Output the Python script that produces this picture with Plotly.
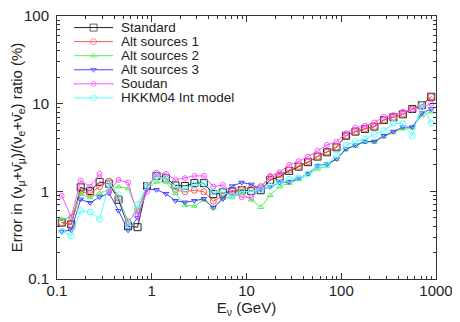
import plotly.graph_objects as go

# bin centres, 10 per decade from 0.1 to 1000 GeV
energy = [round(10 ** (-0.95 + 0.1 * i), 4) for i in range(40)]

standard = [0.44, 0.42, 1.11, 1.01, 1.28, 1.22, 0.80, 0.40, 0.39, 1.15,
            1.50, 1.41, 1.17, 1.15, 1.24, 1.24, 0.93, 0.97, 1.00, 1.03,
            1.01, 1.03, 1.35, 1.47, 1.71, 1.91, 2.15, 2.49, 2.79, 3.18,
            4.30, 4.80, 5.15, 5.47, 6.50, 7.00, 7.56, 8.70, 9.60, 12.0]
alt1 = [0.44, 0.42, 0.99, 0.95, 1.13, 1.31, 0.84, 0.45, 0.61, 1.13,
        1.48, 1.38, 1.04, 0.99, 1.03, 0.99, 0.77, 0.88, 1.02, 1.05,
        1.10, 1.13, 1.45, 1.55, 1.75, 1.93, 2.17, 2.50, 2.80, 3.20,
        4.30, 4.80, 5.15, 5.50, 6.50, 7.00, 7.60, 8.70, 9.60, 12.0]
alt2 = [0.48, 0.51, 0.93, 0.85, 0.95, 1.05, 1.13, 1.08, 0.60, 1.08,
        1.28, 1.28, 0.95, 0.69, 0.68, 0.80, 0.65, 0.84, 0.86, 0.95,
        0.80, 0.66, 0.90, 1.13, 1.24, 1.37, 1.57, 1.80, 1.95, 2.32,
        3.00, 3.30, 3.65, 3.65, 4.20, 4.70, 5.20, 5.30, 7.30, 8.10]
alt3 = [0.35, 0.36, 0.81, 0.74, 0.86, 0.95, 0.60, 0.36, 0.50, 1.06,
        1.04, 0.94, 0.78, 0.75, 0.78, 0.82, 0.65, 0.82, 1.15, 1.26,
        1.20, 1.05, 1.12, 1.26, 1.28, 1.40, 1.60, 1.95, 2.05, 2.34,
        3.05, 3.35, 3.70, 3.70, 4.30, 4.80, 5.40, 5.40, 7.80, 8.70]
soudan = [0.89, 0.51, 1.32, 1.13, 1.58, 1.00, 1.35, 1.26, 0.54, 0.99,
          1.63, 1.58, 1.35, 1.41, 1.50, 1.50, 1.13, 1.18, 0.96, 0.86,
          0.85, 1.11, 1.50, 1.65, 2.00, 2.20, 2.49, 2.90, 3.38, 3.69,
          4.60, 5.30, 5.60, 6.10, 7.10, 7.40, 8.10, 8.60, 9.10, 10.0]
hkkm04 = [0.35, 0.31, 0.60, 0.58, 0.48, 1.23, 0.91, 0.41, 0.70, 1.18,
          1.48, 1.40, 1.12, 1.05, 1.18, 1.24, 0.98, 0.98, 0.88, 1.00,
          1.00, 1.05, 1.15, 1.25, 1.37, 1.42, 1.57, 1.93, 2.00, 2.60,
          3.35, 3.69, 3.95, 4.45, 4.90, 6.00, 5.90, 4.30, 9.70, 6.00]

series = [
    ("Standard", standard, "#222222", "square-open", 7),
    ("Alt sources 1", alt1, "#ff5555", "circle-open", 6),
    ("Alt sources 2", alt2, "#55ee55", "triangle-up-open", 5),
    ("Alt sources 3", alt3, "#4444ff", "triangle-down-open", 5),
    ("Soudan", soudan, "#ff55ff", "circle-open-dot", 5),
    ("HKKM04 Int model", hkkm04, "#55ffff", "circle-open", 6),
]

FONT = "Liberation Sans, Arial"
TXT = "#222222"

fig = go.Figure()
for name, vals, color, symbol, size in series:
    fig.add_trace(go.Scatter(
        x=energy, y=vals, name=name, mode="lines+markers", showlegend=False,
        line=dict(color=color, width=1),
        marker=dict(symbol=symbol, size=size, color=color, line=dict(width=1, color=color)),
    ))

# compact gnuplot-style key, drawn on an overlay axis spanning the plot area
key_x0, key_x1, key_text = 0.045, 0.148, 0.166
key_top, key_step = 0.956, 0.0535
for k, (name, vals, color, symbol, size) in enumerate(series):
    yk = key_top - k * key_step
    fig.add_trace(go.Scatter(
        x=[key_x0, (key_x0 + key_x1) / 2, key_x1], y=[yk, yk, yk],
        xaxis="x2", yaxis="y2", mode="lines+markers", showlegend=False,
        hoverinfo="skip", line=dict(color=color, width=1),
        marker=dict(symbol=symbol, size=[0, size, 0], color=color,
                    line=dict(width=1, color=color)),
    ))
    fig.add_annotation(x=key_text, y=yk, xref="x2", yref="y2", text=name,
                       showarrow=False, xanchor="left", yanchor="middle",
                       height=13, borderpad=0,
                       font=dict(family=FONT, size=13.5, color=TXT))

minor_x = [m * 10 ** d for d in range(-1, 3) for m in range(2, 10)]
minor_y = [m * 10 ** d for d in range(-1, 2) for m in range(2, 10)]

axis_common = dict(
    type="log", showgrid=False, zeroline=False, showline=True, automargin=False,
    linecolor="#333333", linewidth=1, mirror="ticks",
    ticks="inside", ticklen=6, tickcolor="#333333", ticklabeloverflow="allow",
    tickfont=dict(family=FONT, size=15, color=TXT),
)

fig.update_xaxes(
    range=[-1, 3], tickvals=[0.1, 1, 10, 100, 1000],
    ticktext=["0.1", "1", "10", "100", "1000"],
    minor=dict(tickvals=minor_x, ticks="inside", ticklen=3, tickcolor="#333333"),
    ticklabelstandoff=-2,
    title=dict(text="E<sub>ν</sub> (GeV)", standoff=2,
               font=dict(family=FONT, size=15, color=TXT)),
    **axis_common,
)
fig.update_yaxes(
    range=[-1, 2], tickvals=[0.1, 1, 10, 100],
    ticktext=["0.1", "1", "10", "100"],
    minor=dict(tickvals=minor_y, ticks="inside", ticklen=3, tickcolor="#333333"),
    ticklabelstandoff=4,
    title=dict(text="Error in (ν<sub>μ</sub>+ν\u0304<sub>μ</sub>)/(ν<sub>e</sub>+ν\u0304<sub>e</sub>) ratio (%)",
               standoff=4, font=dict(family=FONT, size=15, color=TXT)),
    **axis_common,
)

# the page body keeps its default 8px margin, so the figure is sized to fit after it
fig.update_layout(
    width=452, height=314,
    margin=dict(l=49, r=24, t=8, b=43, autoexpand=False),
    paper_bgcolor="white", plot_bgcolor="white",
    font=dict(family=FONT, size=14, color=TXT),
    showlegend=False,
    xaxis2=dict(overlaying="x", range=[0, 1], visible=False, fixedrange=True),
    yaxis2=dict(overlaying="y", range=[0, 1], visible=False, fixedrange=True),
)

fig.write_html("out.html")
